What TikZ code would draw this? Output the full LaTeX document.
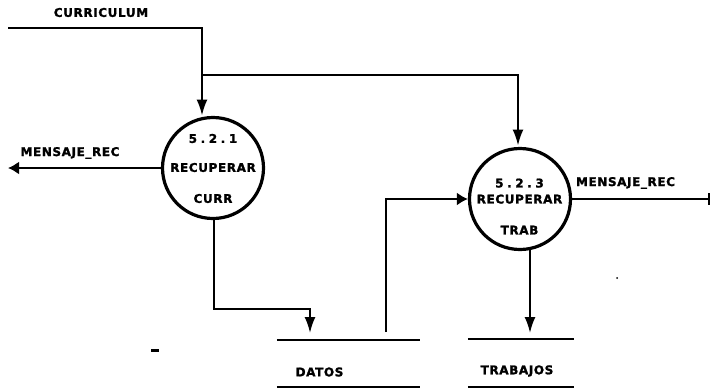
\documentclass[tikz,border=0pt]{standalone}
\usepackage{fontspec}
\newfontfamily\dfdfont{DejaVu Sans Bold}[LetterSpace=5,FakeBold=1.6]
\newfontfamily\dfdwide{DejaVu Sans Bold}[LetterSpace=30,FakeBold=1.6]
\usetikzlibrary{arrows.meta}
\tikzset{
  x=1pt,y=-1pt,
  flow/.style={line width=2pt,line join=miter},
  varrow/.style={flow,-{Latex[length=16pt,width=11pt]}},
  harrow/.style={flow,-{Latex[length=11pt,width=13pt]}},
  proc/.style={circle,draw,line width=3.2pt,minimum size=101pt,inner sep=0pt},
  lab/.style={font=\dfdfont\fontsize{12}{14}\selectfont,inner sep=0pt,align=center},
  store/.style={minimum height=47pt,inner sep=0pt},
  storeline/.style={line width=2pt},
}
\begin{document}
\begin{tikzpicture}
\useasboundingbox (0,0) rectangle (711,391);
\node[proc,label={[lab,yshift=-0.5pt]center:{{\dfdwide 5.2.1}\\[15pt]RECUPERAR\\[17pt]CURR}}] (p1) at (213,168) {};
\node[proc,label={[lab,yshift=-7.5pt,xshift=-0.5pt]center:{{\dfdwide 5.2.3}\\[2pt]RECUPERAR\\[17pt]TRAB}}] (p2) at (520,199) {};
% stores
\node[store,minimum width=143pt] (datos) at (348.5,363.5) {};
\node[store,minimum width=106pt] (trabajos) at (521,363) {};
\node[lab] (datoslab) at (319.5,372) {DATOS};
\node[lab] (trabajoslab) at (517,371) {TRABAJOS};
\draw[storeline] (datos.north west) -- (datos.north east);
\draw[storeline] (datos.south west) -- (datos.south east);
\draw[storeline] (trabajos.north west) -- (trabajos.north east);
\draw[storeline] (trabajos.south west) -- (trabajos.south east);
% labels
\node[lab] (curlab) at (101,12.5) {CURRICULUM};
\node[lab] (msg1) at (70,153) {MENSAJE\_REC};
\node[lab] (msg2) at (625.5,183) {MENSAJE\_REC};
% free ends and bends
\coordinate (inc) at (8,28);
\coordinate (b1) at (202,28);
\coordinate (j1) at (202,75);
\coordinate (b2) at (518,75);
\coordinate (p1top) at (202,115.5);
\coordinate (p2top) at (518,145.5);
\coordinate (out1) at (8,168);
\coordinate (p1b) at (214,217);
\coordinate (d1) at (214,309);
\coordinate (d2) at (310,309);
\coordinate (d3) at (310,333);
\coordinate (s1) at (386,332);
\coordinate (s2) at (386,199);
\coordinate (out2) at (710,199);
\coordinate (p2b) at (530,248);
\coordinate (tt) at (530,333);
% connectors
\draw[varrow] (inc) -- (b1) -- (p1top);
\draw[varrow] (j1) -- (b2) -- (p2top);
\draw[harrow] (p1.west) -- (out1);
\draw[varrow] (p1b) -- (d1) -- (d2) -- (d3);
\draw[harrow] (s1) -- (s2) -- (p2.west);
\draw[flow,-{Bar[width=12pt,line width=2pt]}] (p2.east) -- (out2);
\draw[varrow] (p2b) -- (tt);
% specks
\fill (151,348.5) rectangle (159,351.5);
\fill (617,278) circle (1pt);
\end{tikzpicture}
\end{document}
